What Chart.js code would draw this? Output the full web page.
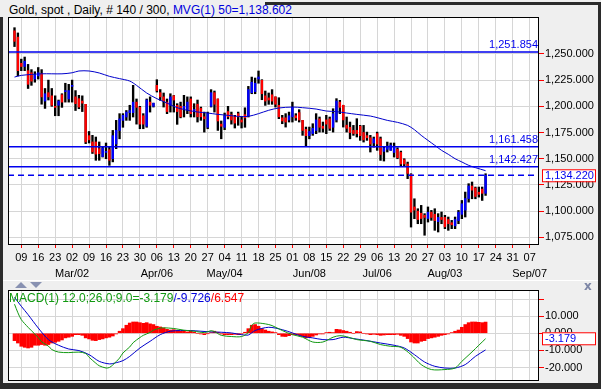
<!DOCTYPE html>
<html>
<head>
<meta charset="utf-8">
<script src="https://cdn.jsdelivr.net/npm/chart.js@4.4.0/dist/chart.umd.min.js"></script>
<style>
  html, body { margin: 0; padding: 0; background: #efefef; }
  #wrap { position: relative; width: 601px; height: 389px; overflow: hidden; background: #efefef;
          font-family: "Liberation Sans", Arial, sans-serif; }
  .bar { position: absolute; background: #2b2b2b; }
  canvas { position: absolute; left: 0; }
  #title { position: absolute; left: 9px; top: 3px; font-size: 12px; color: #000; white-space: nowrap; }
  #macdTitle { position: absolute; left: 9px; top: 291px; font-size: 12px; white-space: nowrap; }
  .tri { position: absolute; width: 0; height: 0; border-left: 6px solid transparent; border-right: 6px solid transparent; }
  #sep { position: absolute; left: 3px; top: 280px; width: 595px; height: 1px; background: #fff; }
  #close { position: absolute; left: 584px; top: 279px; font: bold 12px "DejaVu Sans", sans-serif; color: #7d86a6; }
</style>
</head>
<body>
<div id="wrap">
  <div class="bar" style="left:0;top:17px;width:3px;height:372px"></div>
  <div class="bar" style="left:265px;top:2px;width:336px;height:3px"></div>
  <div class="bar" style="left:598px;top:2px;width:3px;height:387px"></div>
  <div class="bar" style="left:0;top:383px;width:601px;height:6px"></div>
  <div id="title">Gold, spot , Daily, # 140 / 300, <span style="color:#0000dd">MVG(1) 50=1,138.602</span></div>
  <canvas id="price" width="601" height="280" style="top:0"></canvas>
  <div id="sep"></div>
  <div class="tri" style="left:15px;top:282px;border-bottom:6px solid #8891b1"></div>
  <div class="tri" style="left:30px;top:282px;border-top:6px solid #8891b1"></div>
  <div id="close">x</div>
  <canvas id="macd" width="601" height="109" style="top:280px"></canvas>
  <div id="macdTitle"><span style="color:#119911">MACD(1) 12.0;26.0;9.0=-3.179</span><span style="color:#0000dd">/-9.726</span><span style="color:#ff0000">/6.547</span></div>
</div>
<script>
// trading day index of the first bar (0 = Mon 09 Feb)
const firstDay = -2;

const open = [1272,1266,1241,1238,1234,1232,1226,1229,1231,1205,1213,1210,1200,1201,1211,1214,1207,1219,1209,1207.3,
  1205,1201.9,1172,1166,1166,1159.6,1152,1156,1158.6,1150,1164,1177,1186.6,1189.8,1194,1194,1204,1199,1191,1181,
  1204,1200,1220,1213,1209,1204,1201,1210,1201,1200,1198,1197,1207,1196,1202,1198,1190,1180,1200,1213,
  1207,1183,1180,1195,1192,1190,1193,1187,1192,1191,1213,1214,1226,1224.8,1210,1208,1211,1209,1201,1189,
  1189,1187,1190,1191,1194,1186.6,1178,1172,1174,1177,1188,1181,1187,1188,1180,1187,1204,1201,1182,1180,
  1177,1177,1181,1175,1172,1170,1165,1174,1169,1157,1159,1158,1156,1159,1156,1149,1145,1135,1104,1100,
  1098,1096,1093,1099,1097,1090,1094,1094,1092,1089,1086,1091,1097,1101,1112,1124,1122,1118,1121,1117];
const high = [1275,1270,1245,1247,1240,1235,1233,1237,1235,1217,1225,1217,1210,1206,1212,1222,1221,1225,1215,1210.5,
  1210,1201.9,1176,1172.3,1170.7,1166,1161,1165,1161,1177,1186.6,1193,1193,1196,1201,1220,1207,1200,1193,1207,
  1209,1203,1225.4,1216,1212.7,1207,1212,1210.3,1202.5,1204,1210.5,1209,1209,1202.5,1206,1199.3,1194.5,1194.5,1215.9,1214.6,
  1207,1186,1193.6,1200,1194.5,1191.4,1194.5,1190.4,1198.6,1219,1227.9,1227,1233.7,1225.4,1214.6,1212.7,1215.9,1209,1208.2,1191.4,
  1193,1194.5,1204,1193,1196.8,1186.6,1180.2,1180.2,1183.4,1193,1189.8,1185,1191.4,1189.8,1197.7,1207.3,1205.7,1201,1189.8,1185,
  1181.8,1188.2,1181.8,1181.8,1175.4,1172.3,1170.7,1175.4,1170.7,1161,1165.9,1165,1165,1160.5,1157.3,1150,1146.8,1135.7,1111.8,1102.3,
  1105.5,1097.6,1104,1100.7,1102.3,1097.6,1099.2,1096,1094.4,1091.2,1094.4,1100.7,1110.2,1118.2,1126.2,1127.8,1123,1123,1123,1135.7];
const low = [1257,1229,1234,1234,1217,1220,1223,1226,1202,1198,1206,1200,1191,1191,1199,1204,1204,1204,1196,1197.7,
  1195,1164.4,1165,1155,1148.5,1148.5,1151.6,1150,1143.7,1147,1159.6,1169,1180,1186.6,1186.6,1189.8,1183,1178.6,1178.6,1180,
  1194.5,1199.3,1213.6,1205.7,1199.3,1193,1194.5,1194.5,1182.8,1189,1189.8,1193,1189.8,1189.8,1185,1186.6,1175.4,1178.6,1199.3,1194.5,
  1177,1169,1177.7,1188,1183,1179.3,1181.9,1179.3,1180,1189.8,1212,1212,1222,1206.3,1200.9,1201.9,1201.9,1199.3,1188.2,1183.4,
  1180.2,1185,1185,1186.6,1185,1172.3,1162.1,1169,1172.3,1173.9,1175.4,1175.4,1173.9,1177,1175.4,1185,1193,1180.2,1175.4,1169,
  1172.3,1170.7,1167.5,1165.9,1167.5,1156.4,1161,1158,1148.4,1147.8,1156.4,1158,1151.6,1150,1142.7,1142.7,1131,1084.8,1092.8,1088,
  1088,1077,1089.6,1091.2,1081.7,1080.1,1088,1083.3,1081.7,1083.3,1083.3,1088,1092.8,1094.4,1108.6,1111.8,1111.8,1113.4,1110.2,1115];
const close = [1262,1234,1238,1243,1221,1224,1230,1232,1209,1212,1209,1201,1199,1205,1204,1215,1215,1220,1202.5,1199.3,
  1203,1166,1168,1156.5,1154.4,1154.8,1160,1157,1148.5,1172,1177,1188,1191.4,1194.5,1196,1204,1199,1183,1183,1206,
  1201,1203,1215,1209,1205,1195,1209,1206,1195,1190,1200,1204,1193,1197,1190,1190,1188,1193,1213,1202,
  1186,1181,1191,1190,1187,1184,1190,1185,1189,1216,1223,1222,1228,1212,1205,1206,1205,1202,1190,1186,
  1185,1191,1199,1189,1187,1177,1172,1176,1179,1187,1180,1179,1183,1179,1193,1205,1199,1187,1179,1175,
  1174,1174,1172,1168,1170,1164,1169,1164,1154,1160,1162,1163,1162,1151,1145,1145,1136,1099,1101,1092,
  1093,1094,1099,1094,1091,1094,1092,1085,1088,1087,1092,1099,1107,1112,1124,1120,1114,1116,1117,1134.22];

// 50 day moving average, read at selected days
const maDays = [-2,0,6,12,15,17,20,23,26,29,32,34,37,40,43,46,49,52,55,58,61,64,67,70,73,76,80,83,87,90,93,96,99,103,105,108,111,114,116,118,120,122,124,126,128,130,132,134,137];
const maValues = [1227.9,1229.5,1231,1231,1232,1233.7,1233.7,1231.8,1228.6,1226.4,1224.1,1220,1212.7,1207.3,1203.1,1198.7,1196.2,1194.6,1193.6,1192.3,1191.4,1190.4,1190.4,1193,1196.2,1198.4,1199.3,1198.7,1197.4,1195.5,1194.9,1193.6,1192.3,1190.7,1189.2,1186.6,1184.7,1181.8,1177.7,1172.3,1167.5,1162.8,1158,1154.2,1150,1146.9,1143.7,1141.5,1138.602];

const levelValues = [1251.854, 1161.458, 1142.427];
const lastPrice = 1134.220;
const priceTicks = [1075, 1100, 1125, 1150, 1175, 1200, 1225, 1250];

// MACD(12,26,9)
const macdDays = [-2,-1,0,2,3,5,6,8,9,11,14,17,19,20,22,23,25,26,27,29,30,32,33,35,36,38,39,41,42,45,48,51,54,56,57,59,62,65,67,68,69,72,74,77,80,83,86,89,92,94,96,99,103,106,109,112,115,118,121,125,128,130,133,135,137];
const macdValues = [17,12,8,3.5,1.5,-2.5,-5,-7.5,-9.5,-11,-11.3,-11,-11.8,-14,-17.5,-19,-20.3,-20,-18.5,-14.5,-11.5,-8,-5.5,-2.5,-1.2,0.5,1.8,3,3.2,2.8,1.8,1.2,0.4,1.5,1,-1.2,-1.9,-1.9,0.5,4.7,6,5.5,4.5,1.6,-0.8,-2.3,-5.1,-5.1,-2.3,-1.4,-2,-3.7,-4.7,-6.6,-7.6,-8.2,-12.5,-18.3,-21.2,-21.2,-20.3,-16.4,-10.9,-7,-3.179];
const signalDays = [-2,0,2,5,8,11,14,17,20,23,26,28,30,32,35,38,41,44,47,50,53,56,59,62,65,67,69,73,77,80,83,86,89,92,95,98,102,106,110,113,116,119,122,125,128,131,134,137];
const signalValues = [21,15.8,10.9,3.1,-3.7,-7,-9.2,-10.1,-12.5,-16.4,-17.9,-17.2,-16,-13.5,-8.6,-4.7,-0.8,1.2,1.6,1.6,1.2,0.8,0.6,0.2,-0.8,-1,1.6,3.5,2.1,0.2,-1.8,-2.7,-3.7,-3.7,-2.3,-3.1,-4.3,-5.7,-7,-8.6,-12.5,-16.8,-19.3,-20.3,-20.3,-18.3,-13.5,-9.726];
const histValues = [-4.3,-5.7,-7.6,-8.2,-8.6,-8.2,-7,-7,-6.6,-7,-6.6,-5.7,-5.3,-4.7,-3.9,-2.7,-2.3,-1.8,-0.8,-0.8,
  -1.2,-2.7,-3.3,-4.1,-4.3,-3.7,-3.3,-2.7,-2.3,-1.6,-0.4,1.2,2.7,4.7,6,6.6,6.6,6.2,5.8,6.2,
  5.5,5.1,4.1,3.7,3.1,2.3,1.9,2.1,1.6,1.2,1.2,0.8,1.2,0.6,0,-0.4,-0.8,-0.2,0.4,1.2,
  0.6,-0.4,-0.8,-0.8,-0.8,-0.6,-0.8,-0.4,0.6,2.7,4.7,5.1,4.1,2.7,1.9,1.2,0.8,0.4,-0.8,-1.8,
  -1.9,-1.4,-0.8,-0.8,-1.2,-1.9,-2.7,-2.3,-1.8,-1,-0.4,-0.4,0.4,0.6,0.4,2.3,2.1,1.6,1.2,0.6,
  0,1,0.8,0,-0.4,-0.8,-0.6,-0.8,-1.2,-1,-0.8,-0.8,-0.8,-0.6,-1.2,-1.8,-3.1,-5.1,-5.7,-5.7,
  -4.7,-4.3,-3.1,-2.7,-2.3,-1.8,-1.2,-0.8,-0.4,0.4,1.2,1.9,3.5,5.1,6.2,6.6,6.6,6.4,6.2,6.547];
const macdLast = -3.179;
const macdTicks = [-20, -10, 0, 10, 20];

// weekly date ticks (Mondays)
const dayLabels = ['09','16','23','02','09','16','23','30','06','13','20','27','04','11','18','25','01','08','15','22','29','06','13','20','27','03','10','17','24','31','07'];
const monthLabels = ['','','','Mar/02','','','','','Apr/06','','','','May/04','','','','','Jun/08','','','','Jul/06','','','','Aug/03','','','','','Sep/07'];

const xMin = -3.92, xMax = 152.76;
const FONT = '"Liberation Sans", Arial, sans-serif';
Chart.defaults.font.family = FONT;
Chart.defaults.font.size = 11;
Chart.defaults.color = '#000';
Chart.defaults.animation = false;

function fmt(v) {
  return v.toLocaleString('en-US', { minimumFractionDigits: 3, maximumFractionDigits: 3 });
}

const days = open.map((_, i) => firstDay + i);
const gridColor = '#d6d6d6';

const plotFrame = {
  id: 'plotFrame',
  beforeDraw(chart) {
    const a = chart.chartArea, ctx = chart.ctx;
    ctx.save();
    ctx.fillStyle = '#fff';
    ctx.fillRect(a.left, a.top, a.right - a.left, a.bottom - a.top);
    ctx.restore();
  },
  afterDraw(chart) {
    const a = chart.chartArea, ctx = chart.ctx;
    ctx.save();
    ctx.strokeStyle = '#000';
    ctx.lineWidth = 1;
    ctx.strokeRect(a.left + 0.5, a.top + 0.5, a.right - a.left - 1, a.bottom - a.top - 1);
    ctx.restore();
  }
};

function valueBox(ctx, a, py, text) {
  ctx.fillStyle = '#fff';
  ctx.fillRect(a.right + 3, py - 6, 54, 12);
  ctx.strokeStyle = '#ff0000';
  ctx.lineWidth = 1;
  ctx.strokeRect(a.right + 3.5, py - 5.5, 53, 12);
  ctx.fillStyle = '#0000ee';
  ctx.textAlign = 'left';
  ctx.textBaseline = 'middle';
  ctx.fillText(text, a.right + 6, py + 0.5);
}

const priceLabels = {
  id: 'priceLabels',
  afterDraw(chart) {
    const y = chart.scales.y, a = chart.chartArea, ctx = chart.ctx;
    ctx.save();
    ctx.font = '11px ' + FONT;
    ctx.fillStyle = '#0000ee';
    ctx.textAlign = 'right';
    ctx.textBaseline = 'bottom';
    levelValues.forEach(v => ctx.fillText(fmt(v), a.right - 1, y.getPixelForValue(v) - 1));
    valueBox(ctx, a, y.getPixelForValue(lastPrice), fmt(lastPrice));
    ctx.restore();
  }
};

const macdLabels = {
  id: 'macdLabels',
  afterDraw(chart) {
    const y = chart.scales.y, a = chart.chartArea, ctx = chart.ctx;
    ctx.save();
    ctx.font = '11px ' + FONT;
    valueBox(ctx, a, y.getPixelForValue(0) + 5, macdLast.toFixed(3));
    ctx.restore();
  }
};

function weeklyTicks(scale) {
  scale.ticks = dayLabels.map((_, i) => ({ value: i * 5 }));
}

new Chart(document.getElementById('price'), {
  type: 'bar',
  data: {
    datasets: [
      {
        type: 'line', label: 'levels', order: 0,
        data: levelValues.flatMap(v => [{ x: xMin, y: v }, { x: xMax, y: v }, { x: null, y: null }]),
        borderColor: '#0000ee', borderWidth: 1.5, pointRadius: 0, spanGaps: false
      },
      {
        type: 'line', label: 'last', order: 0,
        data: [{ x: xMin, y: lastPrice }, { x: xMax, y: lastPrice }],
        borderColor: '#0000ee', borderWidth: 1.5, borderDash: [6, 4], pointRadius: 0
      },
      {
        type: 'line', label: 'MVG 50', order: 1,
        data: maDays.map((d, i) => ({ x: d, y: maValues[i] })),
        borderColor: '#0000cc', borderWidth: 1, pointRadius: 0, tension: 0.3
      },
      {
        label: 'up', order: 2, grouped: false, barThickness: 1.7,
        data: days.map((d, i) => close[i] >= open[i] ? { x: d, y: [open[i], close[i]] } : null).filter(Boolean),
        backgroundColor: '#0000ff'
      },
      {
        label: 'down', order: 2, grouped: false, barThickness: 1.7,
        data: days.map((d, i) => close[i] < open[i] ? { x: d, y: [close[i], open[i]] } : null).filter(Boolean),
        backgroundColor: '#ff0000'
      },
      {
        label: 'range', order: 3, grouped: false, barThickness: 1.7,
        data: days.map((d, i) => ({ x: d, y: [low[i], high[i]] })),
        backgroundColor: '#000'
      }
    ]
  },
  options: {
    responsive: false,
    layout: { padding: { left: 8, top: 17, right: 0, bottom: 0 } },
    plugins: { legend: { display: false }, tooltip: { enabled: false } },
    scales: {
      x: {
        type: 'linear', min: xMin, max: xMax, offset: false,
        afterBuildTicks: weeklyTicks,
        afterFit: s => { s.height = 35; },
        grid: { color: gridColor, tickColor: '#ff0000', tickLength: 3, offset: false },
        border: { display: false },
        ticks: {
          autoSkip: false, maxRotation: 0, padding: 2,
          font: { size: 11, lineHeight: 1.45 },
          callback: v => [dayLabels[v / 5], monthLabels[v / 5]]
        }
      },
      y: {
        position: 'right', min: 1067.7, max: 1285.2,
        afterBuildTicks: s => { s.ticks = priceTicks.map(v => ({ value: v })); },
        afterFit: s => { s.width = 62; },
        grid: { color: gridColor, tickColor: '#ff0000', tickLength: 5 },
        border: { display: false },
        ticks: { padding: 1, callback: v => fmt(v) }
      }
    }
  },
  plugins: [plotFrame, priceLabels]
});

new Chart(document.getElementById('macd'), {
  type: 'bar',
  data: {
    datasets: [
      {
        type: 'line', label: 'MACD', order: 0,
        data: macdDays.map((d, i) => ({ x: d, y: macdValues[i] })),
        borderColor: '#119911', borderWidth: 1, pointRadius: 0, tension: 0.3
      },
      {
        type: 'line', label: 'Signal', order: 0,
        data: signalDays.map((d, i) => ({ x: d, y: signalValues[i] })),
        borderColor: '#0000cc', borderWidth: 1, pointRadius: 0, tension: 0.3
      },
      {
        label: 'Histogram', order: 1, barThickness: 3,
        data: days.map((d, i) => ({ x: d, y: histValues[i] })),
        backgroundColor: '#ff0000'
      }
    ]
  },
  options: {
    responsive: false,
    layout: { padding: { left: 8, top: 10, right: 0, bottom: 8 } },
    plugins: { legend: { display: false }, tooltip: { enabled: false } },
    scales: {
      x: {
        type: 'linear', min: xMin, max: xMax, offset: false,
        afterBuildTicks: weeklyTicks,
        afterFit: s => { s.height = 0; },
        grid: { color: gridColor, drawTicks: false, offset: false },
        border: { display: false },
        ticks: { display: false }
      },
      y: {
        position: 'right', min: -27.9, max: 25.3,
        afterBuildTicks: s => { s.ticks = macdTicks.map(v => ({ value: v })); },
        afterFit: s => { s.width = 62; },
        grid: { color: gridColor, tickColor: '#ff0000', tickLength: 5 },
        border: { display: false },
        ticks: { padding: 1, callback: v => v === 20 ? '' : fmt(v) }
      }
    }
  },
  plugins: [plotFrame, macdLabels]
});
</script>
</body>
</html>
